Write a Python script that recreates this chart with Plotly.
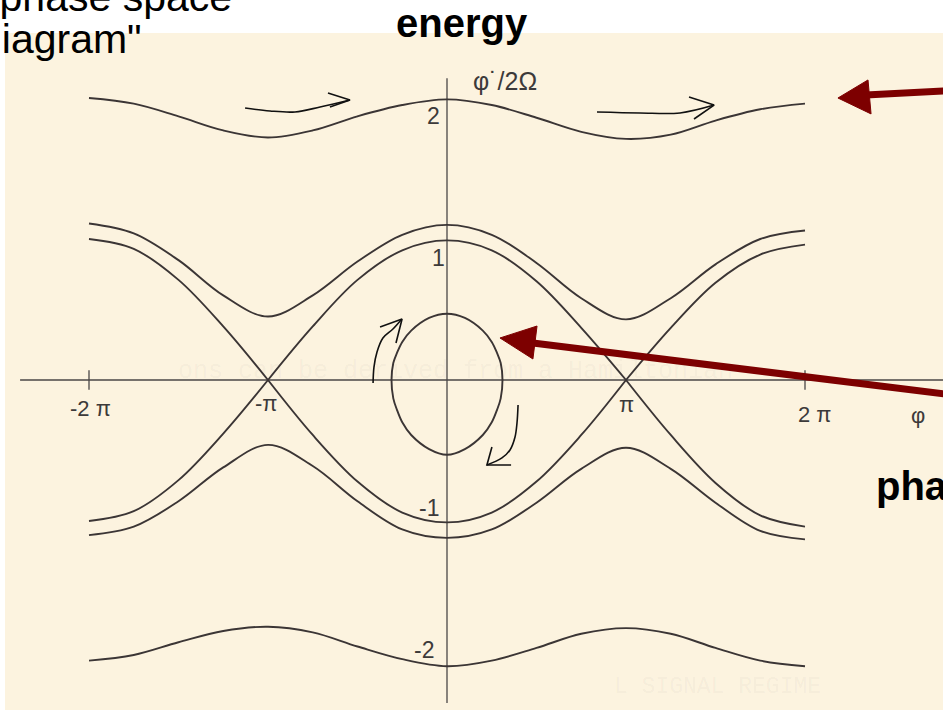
import plotly.graph_objects as go

# ---------------------------------------------------------------
# Pendulum phase-space portrait: phi (in units of pi) vs phidot/2Omega
# ---------------------------------------------------------------

# sample positions along phi, in units of pi
PHI_FULL = [-2.0, -1.75, -1.5, -1.25, -1.0, -0.75, -0.5, -0.25, 0.0,
            0.25, 0.5, 0.75, 1.0, 1.25, 1.5, 1.75, 2.0]
PHI_LEFT = [-2.0, -1.75, -1.5, -1.25, -1.0]
PHI_MID = [-1.0, -0.75, -0.5, -0.25, 0.0, 0.25, 0.5, 0.75, 1.0]
PHI_RIGHT = [1.0, 1.25, 1.5, 1.75, 2.0]

# rotating (running) trajectories, far from the separatrix
ROT_TOP = [2.00, 1.96, 1.87, 1.77, 1.72, 1.77, 1.87, 1.95, 1.99,
           1.95, 1.86, 1.76, 1.71, 1.74, 1.84, 1.92, 1.96]
ROT_BOTTOM = [-1.99, -1.95, -1.86, -1.78, -1.75, -1.79, -1.89, -1.98, -2.03,
              -1.99, -1.90, -1.80, -1.76, -1.80, -1.90, -1.99, -2.03]

# rotating trajectories just outside the separatrix
OUTER_UPPER = [1.11, 1.04, 0.85, 0.60, 0.45, 0.60, 0.84, 1.03, 1.10,
               1.03, 0.83, 0.58, 0.43, 0.58, 0.82, 1.00, 1.06]
OUTER_LOWER = [-1.10, -1.04, -0.86, -0.62, -0.46, -0.61, -0.86, -1.06, -1.12,
               -1.06, -0.87, -0.63, -0.48, -0.63, -0.87, -1.07, -1.13]

# separatrix branches (they cross at phi = -pi and phi = +pi)
SEP_UPPER_LEFT = [1.00, 0.93, 0.71, 0.38, 0.0]
SEP_UPPER_MID = [0.0, 0.38, 0.71, 0.92, 0.99, 0.92, 0.70, 0.37, 0.0]
SEP_UPPER_RIGHT = [0.0, 0.37, 0.69, 0.89, 0.96]
SEP_LOWER_LEFT = [-1.00, -0.93, -0.71, -0.38, 0.0]
SEP_LOWER_MID = [0.0, -0.39, -0.72, -0.94, -1.01, -0.94, -0.72, -0.39, 0.0]
SEP_LOWER_RIGHT = [0.0, -0.39, -0.73, -0.96, -1.04]

# closed libration orbit around the origin
LOOP_PHI = [0.0, 0.10, 0.20, 0.25, 0.28, 0.30, 0.31, 0.30, 0.28, 0.25, 0.20, 0.10, 0.0,
            -0.10, -0.20, -0.25, -0.28, -0.30, -0.31, -0.30, -0.28, -0.25, -0.20, -0.10, 0.0]
LOOP_V = [0.47, 0.44, 0.35, 0.27, 0.19, 0.12, 0.0, -0.13, -0.21, -0.30, -0.39, -0.49, -0.53,
          -0.49, -0.39, -0.30, -0.21, -0.13, 0.0, 0.12, 0.19, 0.27, 0.35, 0.44, 0.47]

# axes extents and tick positions
H_AXIS_PHI = [-2.385, 2.78]
V_AXIS_V = [2.14, -2.29]
TICK_PHI = [-2.0, 2.0]

X_TICK_LABELS = [("-2 π", -1.994, -0.199), ("-π", -1.011, -0.170),
                 ("π", 1.000, -0.177), ("2 π", 2.056, -0.245), ("φ", 2.632, -0.250)]
Y_TICK_LABELS = [("2", -0.073, 1.872), ("1", -0.045, 0.865),
                 ("-1", -0.101, -0.908), ("-2", -0.128, -1.915)]
Y_AXIS_TITLE = ("φ\u02d9/2Ω", 0.324, 2.121)

# hand-drawn flow-direction arrows (shaft, head)
FLOW_ARROWS = [
    ([-1.128, -0.989, -0.849, -0.709, -0.542], [1.929, 1.908, 1.901, 1.936, 1.986],
     [-0.665, -0.542, -0.654], [2.035, 1.986, 1.936]),
    ([0.838, 1.078, 1.302, 1.492], [1.901, 1.894, 1.894, 1.950],
     [1.352, 1.492, 1.380], [2.007, 1.950, 1.851]),
    ([-0.413, -0.408, -0.391, -0.358, -0.302, -0.257], [-0.021, 0.092, 0.199, 0.298, 0.362, 0.426],
     [-0.374, -0.251, -0.285], [0.376, 0.433, 0.262]),
    ([0.397, 0.391, 0.380, 0.352, 0.307, 0.223], [-0.177, -0.305, -0.404, -0.496, -0.553, -0.603],
     [0.251, 0.223, 0.358], [-0.475, -0.603, -0.603]),
]

# dark-red pointer arrows: shaft start, shaft end, head (tip, base1, base2)
POINTERS = [
    ((2.78, 2.050), (2.34, 2.021), [(2.184, 2.000), (2.352, 2.128), (2.369, 1.887)]),
    ((2.78, -0.099), (0.48, 0.262), [(0.296, 0.298), (0.503, 0.383), (0.480, 0.149)]),
]

CURVE_COLOR = "#3b3535"
AXIS_COLOR = "#4a4646"
LABEL_COLOR = "#3c3a3a"
POINTER_COLOR = "#7d0000"
PAPER_COLOR = "#fcf3df"

fig = go.Figure()


def add_curve(x, y, width=1.9, color=CURVE_COLOR, shape="spline"):
    fig.add_trace(go.Scatter(x=x, y=y, mode="lines",
                             line=dict(color=color, width=width, shape=shape),
                             hoverinfo="skip", showlegend=False))


# axes
add_curve(H_AXIS_PHI, [0, 0], width=1.3, color=AXIS_COLOR, shape="linear")
add_curve([0, 0], V_AXIS_V, width=1.3, color=AXIS_COLOR, shape="linear")
for t in TICK_PHI:
    add_curve([t, t], [0.07, -0.07], width=1.3, color=AXIS_COLOR, shape="linear")

# trajectories
add_curve(PHI_FULL, ROT_TOP)
add_curve(PHI_FULL, ROT_BOTTOM)
add_curve(PHI_FULL, OUTER_UPPER)
add_curve(PHI_FULL, OUTER_LOWER)
add_curve(PHI_LEFT, SEP_UPPER_LEFT)
add_curve(PHI_MID, SEP_UPPER_MID)
add_curve(PHI_RIGHT, SEP_UPPER_RIGHT)
add_curve(PHI_LEFT, SEP_LOWER_LEFT)
add_curve(PHI_MID, SEP_LOWER_MID)
add_curve(PHI_RIGHT, SEP_LOWER_RIGHT)
add_curve(LOOP_PHI, LOOP_V)

# flow arrows
for sx, sy, hx, hy in FLOW_ARROWS:
    add_curve(sx, sy, width=1.6, color="#111111")
    add_curve(hx, hy, width=1.6, color="#111111", shape="linear")

shapes = [
    dict(type="rect", xref="paper", yref="paper", x0=5 / 943, x1=1.0, y0=0.0,
         y1=1 - 33 / 710, fillcolor=PAPER_COLOR, line=dict(width=0), layer="below"),
]
for (x0, y0), (x1, y1), head in POINTERS:
    shapes.append(dict(type="line", xref="x", yref="y", x0=x0, y0=y0, x1=x1, y1=y1,
                       line=dict(color=POINTER_COLOR, width=7)))
    path = "M {} {} L {} {} L {} {} Z".format(head[0][0], head[0][1], head[1][0],
                                              head[1][1], head[2][0], head[2][1])
    shapes.append(dict(type="path", xref="x", yref="y", path=path,
                       fillcolor=POINTER_COLOR, line=dict(color=POINTER_COLOR, width=1)))

annotations = []
for labels, size in [(X_TICK_LABELS, 22), (Y_TICK_LABELS, 23), ([Y_AXIS_TITLE], 25)]:
    for text, x, y in labels:
        annotations.append(dict(x=x, y=y, xref="x", yref="y", text=text, showarrow=False,
                                font=dict(family="Liberation Sans, Arial", size=size,
                                          color=LABEL_COLOR)))

# faint show-through typing from the page
for text, x, y, size in [("ons can be derived from a Hamiltonian", 0.05, 0.06, 25),
                         ("L SIGNAL REGIME", 1.51, -2.18, 23)]:
    annotations.append(dict(x=x, y=y, xref="x", yref="y", text=text, showarrow=False,
                            font=dict(family="Liberation Mono, Courier New", size=size,
                                      color="rgba(70,70,70,0.05)")))

# overlaid slide captions
W, H = 943.0, 710.0
for text, px, py, bold in [('"phase space', -17, 11, False),
                           ('diagram"', -23, 53, False),
                           ("energy", 394, 37, True),
                           ("phase", 874, 500, True)]:
    size = 41 if not bold else 40
    annotations.append(dict(x=px / W, y=1 - (py - 0.346 * size) / H, xref="paper",
                            yref="paper", xanchor="left", yanchor="middle",
                            text="<b>" + text + "</b>" if bold else text,
                            showarrow=False,
                            font=dict(family="Liberation Sans, Arial", size=size,
                                      color="#000000")))

fig.update_layout(
    width=943, height=710, autosize=False,
    margin=dict(l=0, r=0, t=0, b=0, pad=0),
    paper_bgcolor="#ffffff", plot_bgcolor="rgba(0,0,0,0)",
    xaxis=dict(range=[-447 / 179, 496 / 179], visible=False, fixedrange=True),
    yaxis=dict(range=[(380 - 710) / 141, 380 / 141], visible=False, fixedrange=True),
    shapes=shapes, annotations=annotations,
)

fig.write_html("out.html")
